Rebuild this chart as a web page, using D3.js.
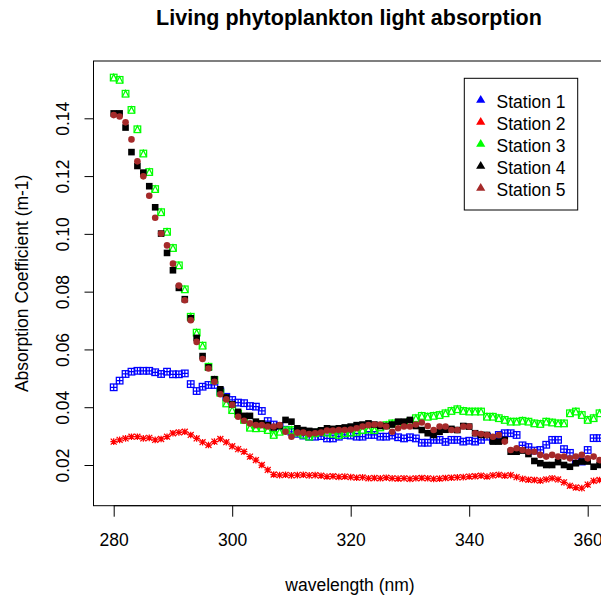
<!DOCTYPE html>
<html>
<head>
<meta charset="utf-8">
<script src="https://cdn.jsdelivr.net/npm/d3@7"></script>
<style>
html,body{margin:0;padding:0;background:#fff;}
text{font-family:"Liberation Sans",Arial,sans-serif;fill:#000;}
</style>
</head>
<body>
<svg id="chart" width="601" height="601"></svg>
<script>
const wavelengths = d3.range(280, 363);
const station1 = [0.0469,0.0492,0.0515,0.0523,0.0526,0.0526,0.0526,0.0521,0.0515,0.0523,0.0514,0.0514,0.0517,0.0480,0.0456,0.0471,0.0477,0.0477,0.0455,0.0436,0.0425,0.0416,0.0414,0.0404,0.0402,0.0387,0.0352,0.0340,0.0335,0.0322,0.0315,0.0308,0.0302,0.0298,0.0298,0.0300,0.0292,0.0292,0.0298,0.0304,0.0302,0.0298,0.0298,0.0304,0.0304,0.0298,0.0298,0.0302,0.0296,0.0292,0.0296,0.0292,0.0277,0.0277,0.0287,0.0287,0.0280,0.0287,0.0287,0.0281,0.0284,0.0281,0.0287,0.0298,0.0287,0.0304,0.0310,0.0310,0.0304,0.0268,0.0262,0.0250,0.0252,0.0270,0.0287,0.0287,0.0255,0.0242,0.0216,0.0212,0.0252,0.0293,0.0293];
const station2 = [0.0281,0.0287,0.0292,0.0298,0.0298,0.0292,0.0294,0.0287,0.0290,0.0298,0.0310,0.0313,0.0315,0.0304,0.0292,0.0279,0.0269,0.0281,0.0290,0.0279,0.0265,0.0255,0.0246,0.0229,0.0217,0.0200,0.0183,0.0167,0.0165,0.0166,0.0164,0.0165,0.0166,0.0164,0.0165,0.0163,0.0160,0.0161,0.0159,0.0160,0.0158,0.0156,0.0157,0.0154,0.0155,0.0154,0.0156,0.0154,0.0153,0.0154,0.0152,0.0154,0.0155,0.0154,0.0152,0.0153,0.0155,0.0156,0.0157,0.0158,0.0160,0.0161,0.0163,0.0160,0.0164,0.0166,0.0163,0.0165,0.0158,0.0152,0.0149,0.0148,0.0146,0.0150,0.0154,0.0150,0.0140,0.0128,0.0122,0.0120,0.0132,0.0145,0.0148];
const station3 = [0.1541,0.1533,0.1485,0.1429,0.1362,0.1278,0.1214,0.1155,0.1075,0.1007,0.0951,0.0891,0.0808,0.0713,0.0658,0.0613,0.0540,0.0494,0.0450,0.0413,0.0390,0.0377,0.0356,0.0329,0.0327,0.0328,0.0321,0.0304,0.0315,0.0320,0.0321,0.0312,0.0305,0.0298,0.0310,0.0315,0.0312,0.0308,0.0304,0.0310,0.0312,0.0315,0.0321,0.0323,0.0321,0.0330,0.0338,0.0344,0.0344,0.0344,0.0350,0.0362,0.0370,0.0367,0.0370,0.0373,0.0379,0.0387,0.0393,0.0387,0.0385,0.0385,0.0385,0.0367,0.0367,0.0362,0.0356,0.0350,0.0350,0.0353,0.0350,0.0344,0.0342,0.0350,0.0347,0.0344,0.0344,0.0379,0.0385,0.0373,0.0356,0.0362,0.0379];
const station4 = [0.1417,0.1417,0.1368,0.1283,0.1235,0.1212,0.1165,0.1092,0.1001,0.0934,0.0874,0.0813,0.0774,0.0708,0.0640,0.0577,0.0538,0.0497,0.0462,0.0434,0.0410,0.0384,0.0370,0.0370,0.0350,0.0344,0.0338,0.0330,0.0335,0.0356,0.0350,0.0327,0.0321,0.0318,0.0316,0.0320,0.0327,0.0325,0.0327,0.0330,0.0333,0.0338,0.0340,0.0344,0.0340,0.0335,0.0335,0.0340,0.0350,0.0350,0.0356,0.0335,0.0321,0.0310,0.0304,0.0315,0.0322,0.0325,0.0321,0.0335,0.0333,0.0310,0.0304,0.0304,0.0281,0.0281,0.0287,0.0246,0.0246,0.0250,0.0238,0.0214,0.0206,0.0200,0.0200,0.0210,0.0200,0.0194,0.0206,0.0212,0.0212,0.0194,0.0200];
const station5 = [0.1411,0.1406,0.1386,0.1327,0.1251,0.1199,0.1132,0.1056,0.1001,0.0960,0.0897,0.0821,0.0770,0.0701,0.0626,0.0567,0.0534,0.0488,0.0445,0.0427,0.0408,0.0367,0.0353,0.0344,0.0338,0.0338,0.0333,0.0333,0.0338,0.0315,0.0298,0.0312,0.0312,0.0307,0.0310,0.0312,0.0319,0.0319,0.0321,0.0321,0.0323,0.0327,0.0333,0.0338,0.0340,0.0340,0.0333,0.0315,0.0327,0.0333,0.0333,0.0340,0.0347,0.0335,0.0321,0.0333,0.0333,0.0321,0.0321,0.0333,0.0333,0.0310,0.0307,0.0304,0.0298,0.0304,0.0281,0.0252,0.0258,0.0252,0.0246,0.0246,0.0235,0.0229,0.0235,0.0229,0.0229,0.0223,0.0229,0.0235,0.0223,0.0229,0.0217];
const seriesNames = ["Station 1","Station 2","Station 3","Station 4","Station 5"];
const seriesColors = ["#0000FF","#FF0000","#00FF00","#000000","#A52A2A"];
const seriesSymbols = ["squarePlus","asterisk","squareTriangle","filledSquare","filledCircle"];
const xTicks = [280,300,320,340,360];
const yTicks = [0.02,0.04,0.06,0.08,0.10,0.12,0.14];
const titleText = "Living phytoplankton light absorption";
const xLabel = "wavelength (nm)";
const yLabel = "Absorption Coefficient (m-1)";

const allSeries = [station1, station2, station3, station4, station5];

const svg = d3.select("#chart");
svg.append("rect").attr("width",601).attr("height",601).attr("fill","#fff");

const plot = {left:93.5, top:61, bottom:505.7, right:640};
const x = d3.scaleLinear().domain([280,360]).range([113.7,587.7]);
const y = d3.scaleLinear().domain([0.02,0.14]).range([465,118.3]);

svg.append("defs").append("clipPath").attr("id","clip")
  .append("rect").attr("x",plot.left).attr("y",plot.top)
  .attr("width",plot.right-plot.left).attr("height",plot.bottom-plot.top);

const FS = 17.5;
const s = 3.3; // marker half-size

function drawSymbol(g, type, color, cx, cy){
  const sw = 1.25;
  if(type==="squarePlus"){
    g.append("rect").attr("x",cx-s).attr("y",cy-s).attr("width",2*s).attr("height",2*s)
      .attr("fill","none").attr("stroke",color).attr("stroke-width",sw);
    g.append("path").attr("d",`M${cx-s},${cy}H${cx+s}M${cx},${cy-s}V${cy+s}`)
      .attr("stroke",color).attr("stroke-width",sw).attr("fill","none");
  } else if(type==="asterisk"){
    const d = s*0.9;
    g.append("path").attr("d",`M${cx-s},${cy}H${cx+s}M${cx},${cy-s}V${cy+s}M${cx-d},${cy-d}L${cx+d},${cy+d}M${cx-d},${cy+d}L${cx+d},${cy-d}`)
      .attr("stroke",color).attr("stroke-width",sw).attr("fill","none");
  } else if(type==="squareTriangle"){
    g.append("rect").attr("x",cx-s).attr("y",cy-s).attr("width",2*s).attr("height",2*s)
      .attr("fill","none").attr("stroke",color).attr("stroke-width",sw);
    g.append("path").attr("d",`M${cx-s},${cy+s}L${cx},${cy-s}L${cx+s},${cy+s}`)
      .attr("stroke",color).attr("stroke-width",sw).attr("fill","none");
  } else if(type==="filledSquare"){
    g.append("rect").attr("x",cx-s).attr("y",cy-s).attr("width",2*s).attr("height",2*s)
      .attr("fill",color);
  } else if(type==="filledCircle"){
    g.append("circle").attr("cx",cx).attr("cy",cy).attr("r",s).attr("fill",color);
  } else if(type==="triangle"){
    const h = 4.6;
    g.append("path").attr("d",`M${cx},${cy-h}L${cx+h},${cy+h*0.7}L${cx-h},${cy+h*0.7}Z`).attr("fill",color);
  }
}

const pts = svg.append("g").attr("clip-path","url(#clip)");
allSeries.forEach((vals, i) => {
  const g = pts.append("g");
  vals.forEach((v, j) => {
    drawSymbol(g, seriesSymbols[i], seriesColors[i], x(wavelengths[j]), y(v));
  });
});

// plot box
svg.append("rect").attr("x",plot.left).attr("y",plot.top)
  .attr("width",plot.right-plot.left).attr("height",plot.bottom-plot.top)
  .attr("fill","none").attr("stroke","#000").attr("stroke-width",1);

// x axis
const xAxis = svg.append("g").attr("transform",`translate(0,${plot.bottom})`)
  .call(d3.axisBottom(x).tickValues(xTicks).tickSize(11).tickSizeOuter(0).tickPadding(17).tickFormat(d3.format("d")));
xAxis.select(".domain").remove();
xAxis.selectAll(".tick line").attr("stroke","#000");
xAxis.selectAll("text").attr("font-size",FS).attr("font-family","Liberation Sans, Arial, sans-serif").attr("fill","#000");
svg.append("line").attr("x1",x(280)).attr("x2",x(360)).attr("y1",plot.bottom).attr("y2",plot.bottom).attr("stroke","#000");

// y axis
const yAxis = svg.append("g").attr("transform",`translate(${plot.left},0)`)
  .call(d3.axisLeft(y).tickValues(yTicks).tickSize(9).tickSizeOuter(0).tickFormat(d3.format(".2f")));
yAxis.select(".domain").remove();
yAxis.selectAll(".tick line").attr("stroke","#000");
yAxis.selectAll("text")
  .attr("x",null).attr("dy",null).attr("y",null)
  .attr("transform","translate(-24.5,0) rotate(-90)")
  .attr("text-anchor","middle")
  .attr("font-size",FS).attr("font-family","Liberation Sans, Arial, sans-serif").attr("fill","#000");

// titles
svg.append("text").attr("x",349).attr("y",25).attr("text-anchor","middle")
  .attr("font-size",21.5).attr("font-weight","bold").text(titleText);
svg.append("text").attr("x",350).attr("y",591).attr("text-anchor","middle")
  .attr("font-size",FS).text(xLabel);
svg.append("text").attr("transform",`translate(28,${(plot.top+plot.bottom)/2}) rotate(-90)`)
  .attr("text-anchor","middle").attr("font-size",FS).text(yLabel);

// legend
const lg = svg.append("g");
lg.append("rect").attr("x",464.3).attr("y",78.3).attr("width",113.4).attr("height",131.7)
  .attr("fill","#fff").attr("stroke","#000").attr("stroke-width",1);
seriesNames.forEach((name, i) => {
  const cy = 101.5 + i*22;
  drawSymbol(lg, "triangle", seriesColors[i], 480.7, cy-2);
  lg.append("text").attr("x",496.5).attr("y",cy+6).attr("font-size",FS).text(name);
});
</script>
</body>
</html>
